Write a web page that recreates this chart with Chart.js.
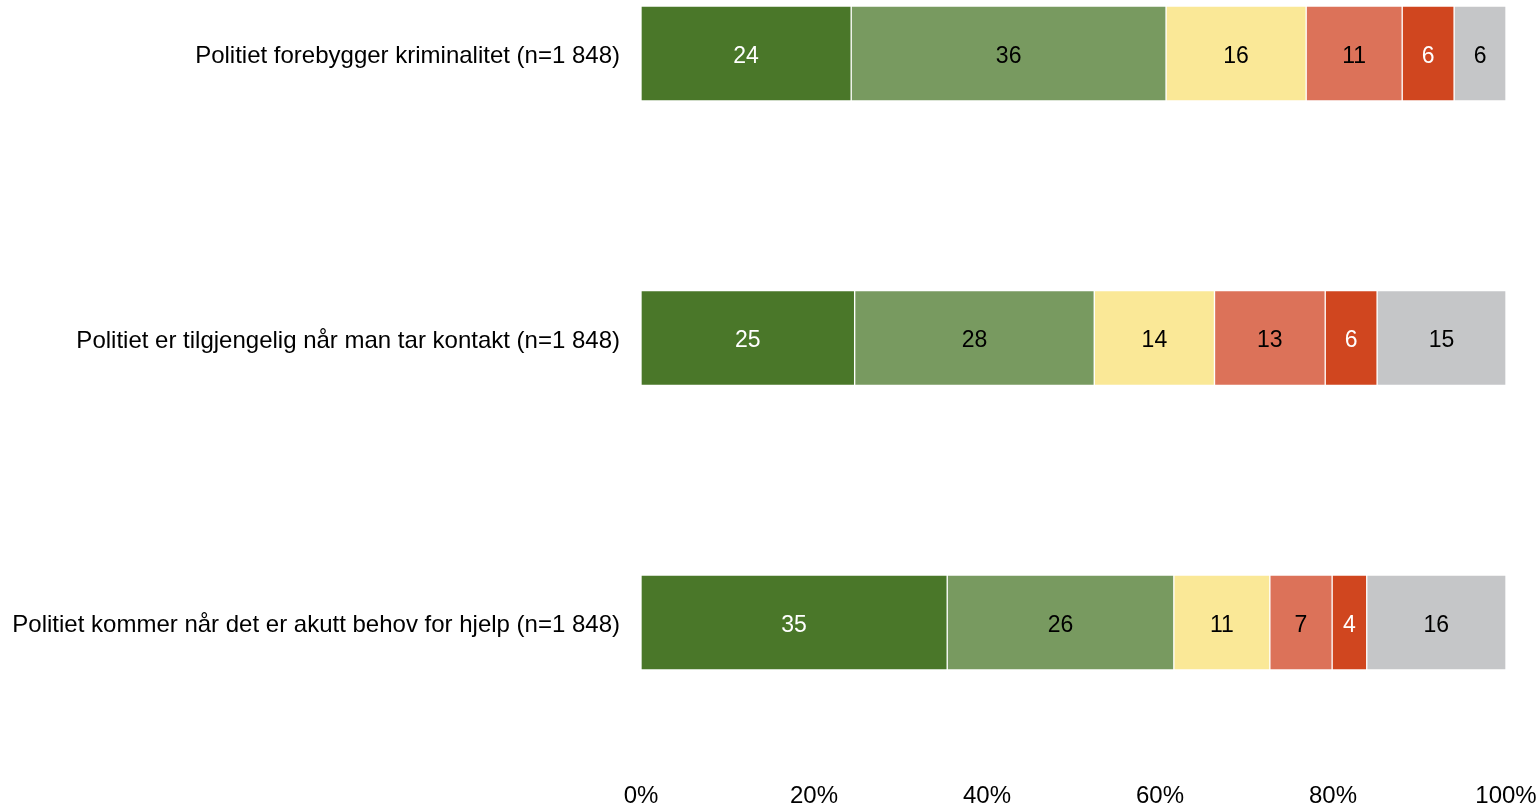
<!DOCTYPE html>
<html>
<head>
<meta charset="utf-8">
<script src="https://cdn.jsdelivr.net/npm/chart.js@4/dist/chart.umd.min.js"></script>
<style>
  html,body{margin:0;padding:0;background:#fff;overflow:hidden;}
</style>
</head>
<body>
<canvas id="chart" width="1540" height="808"></canvas>
<script>
const categories=[
  'Politiet forebygger kriminalitet (n=1 848)',
  'Politiet er tilgjengelig når man tar kontakt (n=1 848)',
  'Politiet kommer når det er akutt behov for hjelp (n=1 848)'
];
const seriesA=[24.3,24.7,35.4];
const seriesB=[36.4,27.7,26.2];
const seriesC=[16.2,13.9,11.1];
const seriesD=[11.1,12.8,7.2];
const seriesE=[6.0,6.0,4.0];
const seriesF=[6.0,14.9,16.1];
const xTicks=[0,20,40,60,80,100];

const series=[
  {data:seriesA,color:'#4a7729',text:'#ffffff'},
  {data:seriesB,color:'#789a60',text:'#000000'},
  {data:seriesC,color:'#fae897',text:'#000000'},
  {data:seriesD,color:'#dc7259',text:'#000000'},
  {data:seriesE,color:'#d0461f',text:'#ffffff'},
  {data:seriesF,color:'#c5c6c8',text:'#000000'}
];
const FONT='"Liberation Sans", Arial, sans-serif';

// draws the rounded value in the middle of each segment
const segmentLabels={
  id:'segmentLabels',
  afterDatasetsDraw(chart){
    const ctx=chart.ctx;
    ctx.save();
    ctx.font='23px '+FONT;
    ctx.textAlign='center';ctx.textBaseline='middle';
    chart.data.datasets.forEach((ds,i)=>{
      chart.getDatasetMeta(i).data.forEach((bar,j)=>{
        const p=bar.getProps(['x','y','base'],true);
        ctx.fillStyle=series[i].text;
        ctx.fillText(Math.round(ds.data[j].x),(p.x+p.base)/2,p.y+3);
      });
    });
    ctx.restore();
  }
};
const noPad=s=>{s.paddingTop=0;s.paddingBottom=0;s.paddingLeft=0;s.paddingRight=0;};

new Chart(document.getElementById('chart'),{
  type:'bar',
  data:{
    datasets:series.map((s,i)=>({
      label:'s'+i,
      data:s.data.map((v,j)=>({x:v,y:j})),
      backgroundColor:s.color,
      borderColor:'rgba(255,255,255,0.25)',
      borderWidth:1,
      borderSkipped:false,
      barThickness:95
    }))
  },
  options:{
    indexAxis:'y',
    responsive:false,animation:false,devicePixelRatio:1,
    layout:{padding:{top:0,right:34,bottom:0,left:0}},
    plugins:{legend:{display:false},tooltip:{enabled:false}},
    scales:{
      x:{
        stacked:true,min:0,max:100,
        grid:{display:false,drawTicks:false},border:{display:false},
        afterBuildTicks:s=>{s.ticks=xTicks.map(v=>({value:v}));},
        afterFit:s=>{s.height=38;noPad(s);},
        ticks:{padding:12,color:'#000',font:{family:FONT,size:24},callback:v=>v+'%'}
      },
      y:{
        type:'linear',stacked:true,reverse:true,offset:false,bounds:'data',
        min:-0.188,max:2.5185,
        grid:{display:false,drawTicks:false},border:{display:false},
        afterDataLimits:s=>{s.min=-0.188;s.max=2.5185;},
        afterBuildTicks:s=>{s.ticks=categories.map((c,i)=>({value:i}));},
        afterFit:s=>{s.width=641;noPad(s);},
        ticks:{padding:21,labelOffset:3,includeBounds:false,color:'#000',font:{family:FONT,size:24},callback:v=>categories[v]??''}
      }
    }
  },
  plugins:[segmentLabels]
});
</script>
</body>
</html>
